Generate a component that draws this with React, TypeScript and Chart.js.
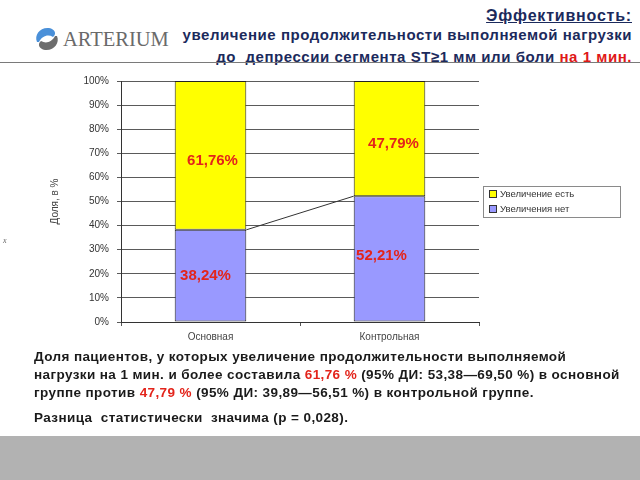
import React, { useEffect, useRef } from "react";
import { Chart, registerables } from "chart.js";

Chart.register(...registerables);

const CATEGORIES = ["Основная", "Контрольная"];
const SERIES_NAMES = ["Увеличения нет", "Увеличение есть"];
const NO_INCREASE = [38.24, 52.21];
const INCREASE = [61.76, 47.79];
const Y_MAX = 100;
const Y_STEP = 10;
const Y_TITLE = "Доля, в %";

const YELLOW = "#FFFF00";
const BLUE = "#9999FF";
const LABEL_RED = "#E3241B";
const NAVY = "#1B2A5C";

// label nudges (px) relative to segment centre: [dataset][index]
const LABEL_SHIFT = [
  [{ dx: -5, dy: 0 }, { dx: -8, dy: -3 }],
  [{ dx: 2, dy: 5 }, { dx: 4, dy: 5 }],
];

const fmt = (v: number) => v.toFixed(2).replace(".", ",") + "%";

const seriesLinePlugin = {
  id: "seriesLine",
  afterDatasetsDraw(chart: any) {
    const meta = chart.getDatasetMeta(0);
    const els = meta.data;
    if (els.length < 2) return;
    const ctx = chart.ctx;
    ctx.save();
    ctx.strokeStyle = "#333";
    ctx.lineWidth = 1;
    for (let i = 0; i < els.length - 1; i++) {
      const a = els[i];
      const b = els[i + 1];
      ctx.beginPath();
      ctx.moveTo(a.x + a.width / 2, a.y);
      ctx.lineTo(b.x - b.width / 2, b.y);
      ctx.stroke();
    }
    ctx.restore();
  },
};

const valueLabelPlugin = {
  id: "valueLabels",
  afterDatasetsDraw(chart: any) {
    const ctx = chart.ctx;
    ctx.save();
    ctx.font = "bold 15px 'Liberation Sans', Arial, sans-serif";
    ctx.fillStyle = LABEL_RED;
    ctx.textAlign = "center";
    ctx.textBaseline = "middle";
    chart.data.datasets.forEach((ds: any, di: number) => {
      const meta = chart.getDatasetMeta(di);
      meta.data.forEach((el: any, i: number) => {
        const s = LABEL_SHIFT[di][i];
        const cy = (el.y + el.base) / 2;
        ctx.fillText(fmt(ds.data[i]), el.x + s.dx, cy + s.dy);
      });
    });
    ctx.restore();
  },
};

const boxedLegendPlugin = {
  id: "boxedLegend",
  afterDraw(chart: any) {
    const ctx = chart.ctx;
    const area = chart.chartArea;
    const left = area.right + 4;
    const width = 137;
    const height = 31;
    const top = (area.top + area.bottom) / 2 - height / 2;
    ctx.save();
    ctx.strokeStyle = "#8a8a8a";
    ctx.lineWidth = 1;
    ctx.strokeRect(Math.round(left) + 0.5, Math.round(top) + 0.5, width, height);
    const items = chart.data.datasets.map((d: any) => d).reverse();
    ctx.font = "9.5px 'Liberation Sans', Arial, sans-serif";
    ctx.textBaseline = "middle";
    ctx.textAlign = "left";
    items.forEach((d: any, k: number) => {
      const cy = top + 8 + k * 15;
      ctx.fillStyle = d.backgroundColor;
      ctx.fillRect(Math.round(left) + 6, Math.round(cy - 4), 8, 8);
      ctx.strokeStyle = "#333";
      ctx.strokeRect(Math.round(left) + 6.5, Math.round(cy - 4) + 0.5, 7, 7);
      ctx.fillStyle = "#333";
      ctx.fillText(d.label, left + 17, cy + 0.5);
    });
    ctx.restore();
  },
};

function BarChart() {
  const ref = useRef<HTMLCanvasElement | null>(null);
  useEffect(() => {
    if (!ref.current) return;
    const chart = new Chart(ref.current, {
      type: "bar",
      data: {
        labels: CATEGORIES,
        datasets: [
          {
            label: SERIES_NAMES[0],
            data: NO_INCREASE,
            backgroundColor: BLUE,
            borderColor: "#222",
            borderWidth: 1,
            borderSkipped: false,
            categoryPercentage: 0.8,
            barPercentage: 0.5,
          },
          {
            label: SERIES_NAMES[1],
            data: INCREASE,
            backgroundColor: YELLOW,
            borderColor: "#222",
            borderWidth: 1,
            borderSkipped: false,
            categoryPercentage: 0.8,
            barPercentage: 0.5,
          },
        ],
      },
      options: {
        animation: false,
        responsive: false,
        maintainAspectRatio: false,
        layout: { padding: { left: 45, right: 161, top: 15, bottom: 10 } },
        plugins: {
          legend: { display: false },
          tooltip: { enabled: false },
        },
        scales: {
          x: {
            stacked: true,
            afterFit: (s: any) => {
              s.height = 24;
            },
            grid: {
              display: true,
              drawOnChartArea: false,
              drawTicks: true,
              tickLength: 4,
              color: "#555",
              offset: true,
            },
            border: { color: "#333" },
            ticks: {
              padding: 5,
              color: "#444",
              font: { family: "'Liberation Sans', Arial, sans-serif", size: 10 },
            },
          },
          y: {
            stacked: true,
            min: 0,
            max: Y_MAX,
            afterFit: (s: any) => {
              s.width = 76;
            },
            grid: {
              color: "#5a5a5a",
              tickLength: 4,
            },
            border: { color: "#333" },
            ticks: {
              stepSize: Y_STEP,
              padding: 8,
              color: "#333",
              font: { family: "'Liberation Sans', Arial, sans-serif", size: 10 },
              callback: (v: any) => v + "%",
            },
            title: {
              display: true,
              text: Y_TITLE,
              color: "#444",
              padding: { top: 4, bottom: 0 },
              font: { family: "'Liberation Sans', Arial, sans-serif", size: 10 },
            },
          },
        },
      },
      plugins: [seriesLinePlugin, valueLabelPlugin, boxedLegendPlugin],
    });
    return () => chart.destroy();
  }, []);
  return (
    <canvas
      ref={ref}
      width={640}
      height={290}
      style={{ position: "absolute", left: 0, top: 66, width: 640, height: 290 }}
    />
  );
}

function Logo() {
  return (
    <div style={{ position: "absolute", left: 33, top: 26, height: 26, display: "flex", alignItems: "center" }}>
      <svg width="28" height="26" viewBox="0 0 28 26">
        <path d="M4 16 C1 9 7 1 16 2 C22 3 24 8 20 11 C15 8 9 10 6 16 Z" fill="#4A90D9" />
        <path d="M24 10 C27 17 21 25 12 24 C6 23 4 18 8 15 C13 18 19 16 22 10 Z" fill="#6d6d6d" />
      </svg>
      <span
        style={{
          fontFamily: "'Liberation Serif', 'DejaVu Serif', serif",
          fontSize: 20.5,
          color: "#6a6a6a",
          marginLeft: 2,
          lineHeight: "26px",
        }}
      >
        ARTERIUM
      </span>
    </div>
  );
}

const titleBase: React.CSSProperties = {
  position: "absolute",
  right: 8,
  fontFamily: "'Liberation Sans', Arial, sans-serif",
  fontWeight: "bold",
  color: NAVY,
  whiteSpace: "nowrap",
  fontSize: 15,
  letterSpacing: 0.55,
  lineHeight: "18px",
};

const bodyStyle: React.CSSProperties = {
  position: "absolute",
  left: 34,
  fontFamily: "'Liberation Sans', Arial, sans-serif",
  fontWeight: "bold",
  fontSize: 13.5,
  color: "#1a1a1a",
  lineHeight: "18px",
  whiteSpace: "nowrap",
  letterSpacing: 0.4,
};

export default function App() {
  const red = { color: LABEL_RED };
  return (
    <div
      style={{
        position: "absolute",
        left: 0,
        top: 0,
        width: 640,
        height: 480,
        background: "#fff",
        overflow: "hidden",
      }}
    >
      <div style={{ ...titleBase, top: 7, fontSize: 16, letterSpacing: 0.8, textDecoration: "underline" }}>
        Эффективность:
      </div>
      <div style={{ ...titleBase, top: 26 }}>увеличение продолжительности выполняемой нагрузки</div>
      <div style={{ ...titleBase, top: 48 }}>
        до&nbsp; депрессии сегмента ST≥1 мм или боли <span style={{ color: "#E01818" }}>на 1 мин.</span>
      </div>
      <Logo />
      <div style={{ position: "absolute", left: 0, top: 62, width: 640, height: 1, background: "#7a7a7a" }} />
      <BarChart />
      <div
        style={{
          position: "absolute",
          left: 3,
          top: 236,
          fontFamily: "'Liberation Serif', serif",
          fontStyle: "italic",
          fontSize: 8,
          color: "#666",
        }}
      >
        x
      </div>
      <div style={{ ...bodyStyle, top: 348 }}>
        Доля пациентов, у которых увеличение продолжительности выполняемой
        <br />
        нагрузки на 1 мин. и более составила <span style={red}>61,76 %</span> (95% ДИ: 53,38—69,50 %) в основной
        <br />
        группе против <span style={red}>47,79 %</span> (95% ДИ: 39,89—56,51 %) в контрольной группе.
      </div>
      <div style={{ ...bodyStyle, top: 409 }}>Разница&nbsp; статистически&nbsp; значима (р = 0,028).</div>
      <div style={{ position: "absolute", left: 0, top: 436, width: 640, height: 44, background: "#B2B2B2" }} />
    </div>
  );
}
